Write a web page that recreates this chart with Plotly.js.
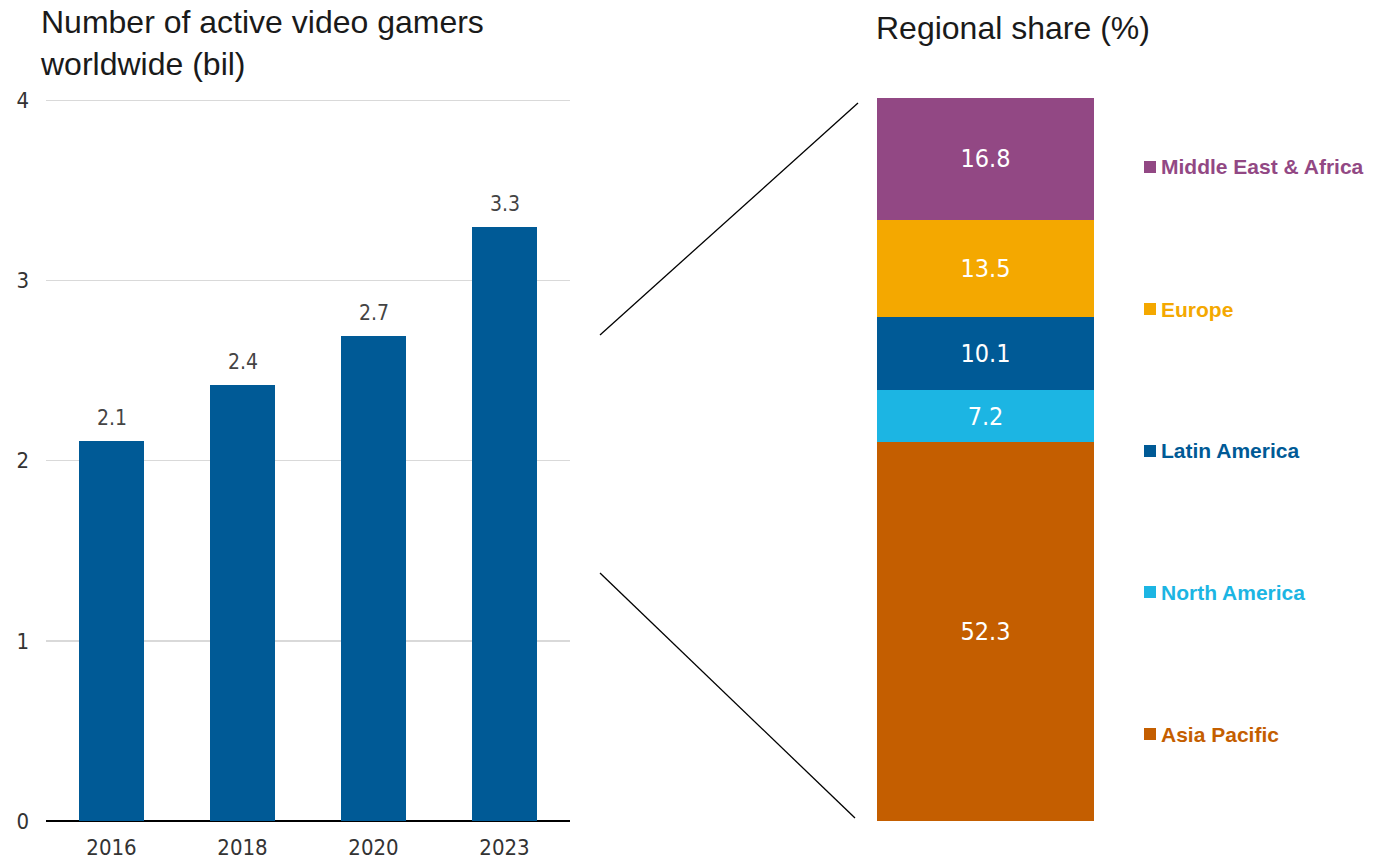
<!DOCTYPE html>
<html>
<head>
<meta charset="utf-8">
<script src="https://cdn.plot.ly/plotly-3.0.1.min.js"></script>
<style>html,body{margin:0;padding:0;background:#fff;}#chart{width:1389px;height:860px;}</style>
</head>
<body>
<div id="chart"></div>
<script>
// ---- data ----
const years = ['2016', '2018', '2020', '2023'];
const gamers = [2.11, 2.42, 2.69, 3.3];
const gamerLabels = ['2.1', '2.4', '2.7', '3.3'];

const regions = ['Asia Pacific', 'North America', 'Latin America', 'Europe', 'Middle East & Africa'];
const shares = [52.3, 7.2, 10.1, 13.5, 16.8];
const regionColors = ['#C45E00', '#1CB5E3', '#005A96', '#F4A800', '#924884'];

const yTicks = [0, 1, 2, 3, 4];

// ---- fonts ----
const NARROW = '"Liberation Sans Narrow", "DejaVu Sans Condensed", "Liberation Sans", sans-serif';
const SANS = '"Liberation Sans", Arial, sans-serif';

// ---- geometry helpers (px -> paper) ----
const W = 1389, H = 860;
const px = x => x / W;
const py = y => 1 - y / H;

const traces = [];
traces.push({
  type: 'bar', x: years, y: gamers, xaxis: 'x', yaxis: 'y',
  marker: {color: '#005A96'}, width: 0.5, hoverinfo: 'x+y', showlegend: false
});
regions.forEach((r, i) => {
  traces.push({
    type: 'bar', x: ['share'], y: [shares[i]], name: r, xaxis: 'x2', yaxis: 'y2',
    marker: {color: regionColors[i]}, width: 1,
    text: [shares[i].toFixed(1)], textposition: 'inside', insidetextanchor: 'middle',
    textfont: {family: NARROW, size: 25, color: '#ffffff'},
    constraintext: 'none', showlegend: false, hoverinfo: 'name+y'
  });
});

const annotations = [];
// left bar value labels
years.forEach((yr, i) => {
  annotations.push({
    xref: 'x', yref: 'y', x: i, y: gamers[i], text: gamerLabels[i],
    showarrow: false, yanchor: 'bottom', yshift: 9,
    font: {family: NARROW, size: 21, color: '#444444'}
  });
});
// titles
annotations.push({
  xref: 'paper', yref: 'paper', x: px(38), y: py(2), xanchor: 'left', yanchor: 'top',
  align: 'left', showarrow: false,
  text: 'Number of active video gamers<br>worldwide (bil)',
  font: {family: SANS, size: 32, color: '#1a1a1a'}
});
annotations.push({
  xref: 'paper', yref: 'paper', x: px(874), y: py(8), xanchor: 'left', yanchor: 'top',
  align: 'left', showarrow: false,
  text: 'Regional share (%)',
  font: {family: SANS, size: 32, color: '#1a1a1a'}
});

const shapes = [];
// legend (top = last region)
const legendYs = [734, 592, 451, 309, 167];
regions.forEach((r, i) => {
  const cy = legendYs[i];
  shapes.push({
    type: 'rect', xref: 'paper', yref: 'paper',
    x0: px(1144), x1: px(1156), y0: py(cy + 6), y1: py(cy - 6),
    fillcolor: regionColors[i], line: {width: 0}
  });
  annotations.push({
    xref: 'paper', yref: 'paper', x: px(1159), y: py(cy), xanchor: 'left', yanchor: 'middle',
    showarrow: false, text: '<b>' + r.replace('&', '&amp;') + '</b>',
    font: {family: SANS, size: 21, color: regionColors[i]}
  });
});
// connector lines
shapes.push({type: 'line', xref: 'paper', yref: 'paper', x0: px(600), y0: py(335), x1: px(858), y1: py(103), line: {color: '#000', width: 1.3}});
shapes.push({type: 'line', xref: 'paper', yref: 'paper', x0: px(600), y0: py(573), x1: px(855), y1: py(818), line: {color: '#000', width: 1.3}});

const layout = {
  width: W, height: H,
  margin: {l: 0, r: 0, t: 0, b: 0},
  paper_bgcolor: '#fff', plot_bgcolor: 'rgba(0,0,0,0)',
  barmode: 'stack', showlegend: false,
  xaxis: {
    domain: [px(46), px(570)], anchor: 'y', type: 'category',
    range: [-0.5, years.length - 0.5], autorange: false,
    showgrid: false, showline: false, zeroline: false, ticks: '',
    tickfont: {family: NARROW, size: 22, color: '#333333'}, ticklabelstandoff: 11
  },
  yaxis: {
    domain: [py(821), py(95)], anchor: 'x', range: [0, 4.03], autorange: false,
    tickvals: yTicks, ticktext: yTicks.map(String),
    showgrid: true, gridcolor: '#d9d9d9', gridwidth: 1.5,
    zeroline: true, zerolinecolor: '#000000', zerolinewidth: 2,
    showline: false, ticks: '',
    tickfont: {family: NARROW, size: 22, color: '#333333'}, ticklabelstandoff: 16
  },
  xaxis2: {
    domain: [px(877), px(1094)], anchor: 'y2', range: [-0.5, 0.5], autorange: false,
    visible: false, type: 'category'
  },
  yaxis2: {
    domain: [py(821), py(98)], anchor: 'x2', range: [0, shares.reduce((a, b) => a + b, 0)], autorange: false,
    visible: false
  },
  annotations: annotations, shapes: shapes,
  font: {family: SANS}
};

Plotly.newPlot('chart', traces, layout, {displayModeBar: false, staticPlot: true});
</script>
</body>
</html>
